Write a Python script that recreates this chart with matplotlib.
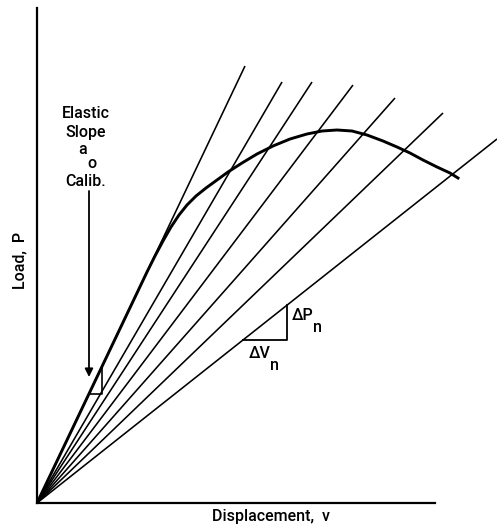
import matplotlib
matplotlib.use("Agg")
import matplotlib.pyplot as plt
import numpy as np

plt.rcParams['font.family'] = ['Roboto', 'DejaVu Sans']

# Secant lines from origin: end points (displacement, load) in arbitrary units
line_end_v = [208, 245, 275, 316, 358, 406, 460]
line_end_p = [437, 421, 421, 418, 405, 390, 364]

# Load-displacement curve
curve_v = [0, 110, 118, 126, 134, 142, 150, 159, 169, 180, 191, 205, 220, 236, 253, 270, 285,
           300, 315, 330, 346, 360, 373, 386, 400, 413, 421]
curve_p = [0, 231, 247, 262, 276, 288, 298, 307, 315, 323, 331, 340, 349, 357, 364, 369, 372,
           373, 372, 368, 362, 356, 350, 343, 336, 330, 325]

W, H = 497, 524
fig = plt.figure(figsize=(W / 100, H / 100), dpi=100)
ox, oy = 37, 503
ax = fig.add_axes([ox / W, (H - oy) / H, (W - ox) / W, (oy - 8) / H])
ax.set_xlim(0, W - ox)
ax.set_ylim(0, oy - 8)
for s in ['top', 'right']:
    ax.spines[s].set_visible(False)
ax.spines['left'].set_linewidth(1.6)
ax.spines['bottom'].set_linewidth(1.6)
ax.spines['bottom'].set_bounds(0, 398)
ax.set_xticks([])
ax.set_yticks([])
ax.patch.set_visible(False)

for ev, ep in zip(line_end_v, line_end_p):
    ax.plot([0, ev], [0, ep], color='black', lw=1.15, solid_capstyle='butt')

ax.plot(curve_v, curve_p, color='black', lw=2.1, solid_joinstyle='round')

# small calibration triangle on elastic line
s0 = line_end_p[0] / line_end_v[0]
tv0, tv1 = 52, 65
ax.plot([tv0, tv1, tv1], [tv0 * s0, tv0 * s0, tv1 * s0], color='black', lw=1.2)

# big triangle on last line
sn = line_end_p[-1] / line_end_v[-1]
bv0, bv1 = 206, 250
ax.plot([bv0, bv1, bv1], [bv0 * sn, bv0 * sn, bv1 * sn], color='black', lw=1.3)

# arrow
ax.annotate('', xy=(52, 126), xytext=(52, 312),
            arrowprops=dict(arrowstyle='-|>', color='black', lw=1.3,
                            mutation_scale=12, shrinkA=0, shrinkB=0))

def ftxt(x, y, s, **kw):
    fig.text(x / W, 1 - y / H, s, fontweight='medium', color='black', **kw)

fs = 11.5
kw = dict(fontsize=fs, ha='center', va='center')
ftxt(86, 113, 'Elastic', **kw)
ftxt(86, 132, 'Slope', **kw)
ftxt(83, 150, 'a', **kw)
ftxt(92, 163, 'o', **kw)
ftxt(86, 181, 'Calib.', **kw)

ftxt(292, 315, '\u0394P', fontsize=fs, ha='left', va='center')
ftxt(313, 327, 'n', fontsize=fs, ha='left', va='center')
ftxt(249, 354, '\u0394V', fontsize=fs, ha='left', va='center')
ftxt(270, 366, 'n', fontsize=fs, ha='left', va='center')

ftxt(20, 260, 'Load,  P', fontsize=fs, ha='center', va='center', rotation=90)
ftxt(271, 516, 'Displacement,  v', fontsize=fs, ha='center', va='center')

fig.savefig('out.png', dpi=100)
